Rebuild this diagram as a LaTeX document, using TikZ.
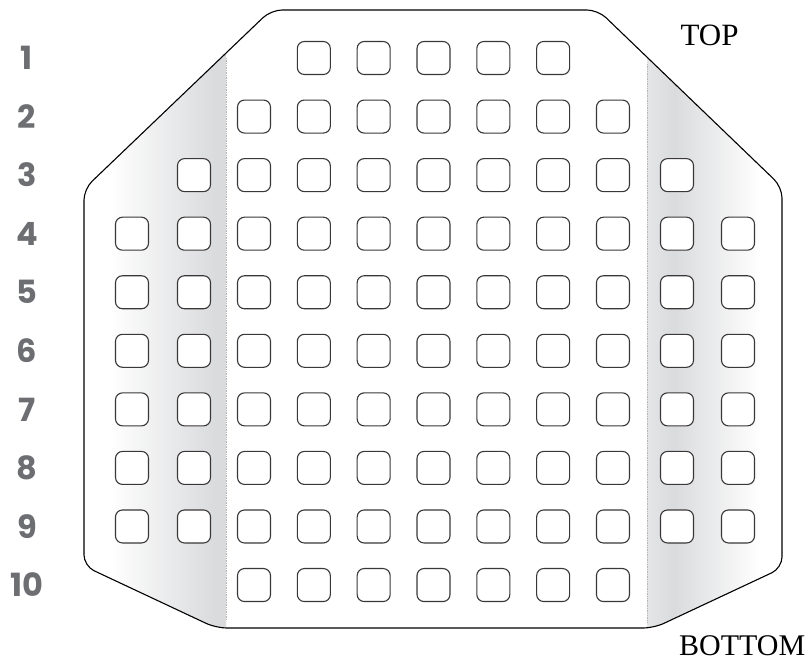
\documentclass[tikz,border=0pt]{standalone}
\usepackage{fontspec}
\newfontfamily\rowfont{Poppins}
\newfontfamily\serfont{Liberation Serif}
\definecolor{rowgray}{HTML}{6D6E71}
\definecolor{sqline}{HTML}{3A3738}
\definecolor{shA}{HTML}{DADBDD}
\definecolor{shB}{HTML}{E4E5E6}
\definecolor{dotgray}{HTML}{B5B6B8}
\pgfdeclarehorizontalshading{leftshade}{100bp}{color(0bp)=(white); color(25bp)=(white); color(34bp)=(white); color(71bp)=(shA); color(75bp)=(shA); color(100bp)=(shA)}
\pgfdeclarehorizontalshading{rightshade}{100bp}{color(0bp)=(shB); color(25bp)=(shB); color(35bp)=(shA); color(67bp)=(white); color(75bp)=(white); color(100bp)=(white)}
\tikzset{
  outline/.style={draw=black, line width=1.1pt, rounded corners=11pt},
  seat/.style={draw=sqline, line width=1.1pt, fill=white, rectangle, rounded corners=7pt, minimum width=33pt, minimum height=33pt, inner sep=0pt},
  rowlab/.style={font=\rowfont\bfseries\fontsize{32}{32}\selectfont, text=rowgray, inner sep=0pt, anchor=center},
  sidelab/.style={font=\serfont\fontsize{31}{31}\selectfont, text=black, inner sep=0pt},
  fold/.style={draw=dotgray, line width=0.7pt, densely dotted}
}
\begin{document}
\begin{tikzpicture}[x=1pt,y=-1pt]
\useasboundingbox (0,0) rectangle (812,662);
% shaded side panels clipped to outline
\begin{scope}
  \clip[rounded corners=11pt] (434,10) -- (598,10) -- (782,187) -- (782,568) -- (654,628) -- (216,628) -- (84,566) -- (84,189) -- (271,10) -- cycle;
  \shade[shading=leftshade] (84,0) rectangle (226,640);
  \shade[shading=rightshade] (647,0) rectangle (782,640);
\end{scope}
\draw[outline] (434,10) -- (598,10) -- (782,187) -- (782,568) -- (654,628) -- (216,628) -- (84,566) -- (84,189) -- (271,10) -- cycle;
% fold lines
\coordinate (lf1) at (226,58);
\coordinate (lf2) at (226,620);
\coordinate (rf1) at (647,64);
\coordinate (rf2) at (647,623);
\draw[fold] (lf1) -- (lf2);
\draw[fold] (rf1) -- (rf2);
% seats
\foreach \r/\a/\b in {1/4/8, 2/3/9, 3/2/10, 4/1/11, 5/1/11, 6/1/11, 7/1/11, 8/1/11, 9/1/11, 10/3/9} {
  \pgfmathsetmacro\yy{58+58.56*(\r-1)}
  \node[rowlab] (lab\r) at (27,\yy) {\r};
  \foreach \c in {\a,...,\b} {
    \pgfmathsetmacro\xx{\c==1 ? 132 : (\c==2 ? 194 : (\c==10 ? 677 : (\c==11 ? 738 : 254+59.83*(\c-3))))}
    \node[seat] (sq-\r-\c) at (\xx,\yy) {};
  }
}
\node[sidelab, anchor=center] (top) at (709.5,35) {TOP};
\node[sidelab, anchor=base west, font=\serfont\fontsize{30}{30}\selectfont] (bottom) at (679,655) {BOTTOM};
\end{tikzpicture}
\end{document}
